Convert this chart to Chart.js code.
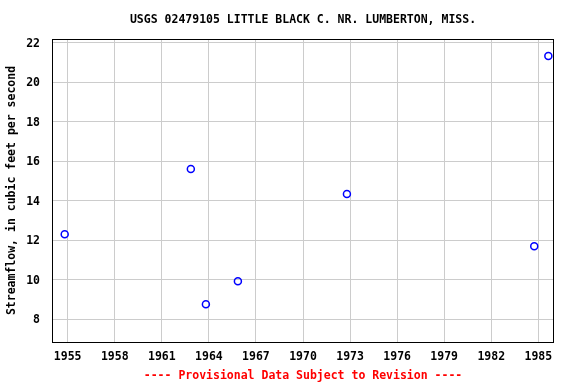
<!DOCTYPE html>
<html>
<head>
<meta charset="utf-8">
<script src="https://cdn.jsdelivr.net/npm/chart.js@4/dist/chart.umd.min.js"></script>
<style>
  html, body { margin: 0; padding: 0; background: #fff; }
  #chart { display: block; }
</style>
</head>
<body>
<canvas id="chart" width="576" height="384"></canvas>
<script>
const chartTitle = 'USGS 02479105 LITTLE BLACK C. NR. LUMBERTON, MISS.';
const yAxisTitle = 'Streamflow, in cubic feet per second';
const footerText = '---- Provisional Data Subject to Revision ----';

// decimal year of each measurement, and its streamflow (cfs)
const years = [1954.81, 1962.85, 1963.81, 1965.85, 1972.8, 1984.74, 1985.64];
const flows = [12.31, 15.61, 8.76, 9.93, 14.35, 11.70, 21.34];

const xTicks = [1955, 1958, 1961, 1964, 1967, 1970, 1973, 1976, 1979, 1982, 1985];
const yTicks = [8, 10, 12, 14, 16, 18, 20, 22];

const monoFont = '"DejaVu Sans Mono", "Liberation Mono", monospace';

const points = years.map(function(y, i) { return {x: y, y: flows[i]}; });

const frameAndText = {
    id: 'frameAndText',
    afterDraw: function(chart) {
        const ctx = chart.ctx;
        const area = chart.chartArea;
        ctx.save();
        ctx.strokeStyle = '#000';
        ctx.lineWidth = 1;
        ctx.strokeRect(Math.round(area.left) + 0.5, Math.round(area.top) + 0.5,
            Math.round(area.right - area.left) - 1, Math.round(area.bottom - area.top));
        const cx = (area.left + area.right) / 2;
        ctx.textAlign = 'center';
        ctx.textBaseline = 'middle';
        ctx.font = 'bold 11.5px ' + monoFont;
        ctx.fillStyle = '#000';
        ctx.fillText(chartTitle, cx, 20);
        ctx.fillStyle = '#ff0000';
        ctx.fillText(footerText, cx, 376);
        ctx.restore();
    }
};

new Chart(document.getElementById('chart'), {
    type: 'scatter',
    plugins: [frameAndText],
    data: {
        datasets: [{
            label: 'Streamflow',
            data: points,
            pointStyle: 'circle',
            pointRadius: 3.5,
            pointHoverRadius: 3.5,
            borderColor: '#0000ff',
            backgroundColor: 'rgba(0,0,0,0)',
            borderWidth: 1.5,
            showLine: false
        }]
    },
    options: {
        responsive: false,
        animation: false,
        layout: {
            padding: {top: 39, right: 22, left: 0, bottom: 0}
        },
        plugins: {
            legend: {display: false},
            tooltip: {enabled: false}
        },
        scales: {
            x: {
                type: 'linear',
                min: 1954,
                max: 1986,
                afterBuildTicks: function(scale) {
                    scale.ticks = xTicks.map(function(v) { return {value: v}; });
                },
                afterFit: function(scale) { scale.height = 42; },
                grid: {color: '#cccccc', lineWidth: 1, drawTicks: false},
                border: {display: false},
                ticks: {
                    padding: 8,
                    maxRotation: 0,
                    autoSkip: false,
                    color: '#000',
                    font: {family: monoFont, size: 11.5, weight: 'bold'},
                    callback: function(value) { return String(value); }
                }
            },
            y: {
                type: 'linear',
                min: 6.85,
                max: 22.2,
                afterBuildTicks: function(scale) {
                    scale.ticks = yTicks.map(function(v) { return {value: v}; });
                },
                afterFit: function(scale) { scale.width = 52; },
                grid: {color: '#cccccc', lineWidth: 1, drawTicks: false},
                border: {display: false},
                title: {
                    display: true,
                    text: yAxisTitle,
                    color: '#000',
                    padding: {top: 5, bottom: 0},
                    font: {family: monoFont, size: 11.5, weight: 'bold'}
                },
                ticks: {
                    padding: 12,
                    labelOffset: 1,
                    autoSkip: false,
                    color: '#000',
                    font: {family: monoFont, size: 11.5, weight: 'bold'}
                }
            }
        }
    }
});
</script>
</body>
</html>
